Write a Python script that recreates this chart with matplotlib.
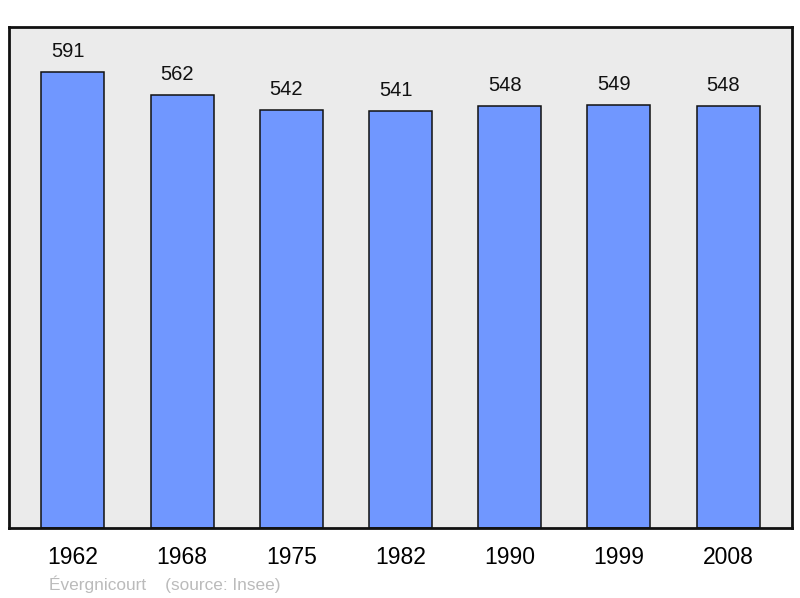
import matplotlib
matplotlib.use("Agg")
import matplotlib.pyplot as plt

years = ["1962", "1968", "1975", "1982", "1990", "1999", "2008"]
population = [591, 562, 542, 541, 548, 549, 548]
footer = "Évergnicourt    (source: Insee)"

plt.rcParams['font.family'] = ['Liberation Sans', 'DejaVu Sans']

fig = plt.figure(figsize=(8, 5.98), dpi=100)
ax = fig.add_axes([9/800, 70/598, 783/800, 501/598])
ax.set_facecolor('#ebebeb')
x = list(range(len(years)))
ax.bar(x, population, width=0.576, color='#7097ff', edgecolor='#111111', linewidth=1.1, zorder=2)
for xi, v in zip(x, population):
    ax.annotate(str(v), (xi, v), xytext=(-5, 11), textcoords='offset pixels',
                ha='center', va='bottom', fontsize=14.5, color='#111111')
ax.set_xlim(-0.585, 6.585)
ax.set_ylim(0, 650)
ax.set_yticks([])
ax.set_xticks(x)
ax.set_xticklabels(years, fontsize=16.5)
ax.tick_params(axis='x', length=0, pad=13)
for s in ax.spines.values():
    s.set_linewidth(2)
    s.set_color('#111111')
fig.text(49/800, 1 - 584/598, footer, fontsize=12.4, color='#bbbbbb', va='center', ha='left')
fig.savefig('out.png', dpi=100)
